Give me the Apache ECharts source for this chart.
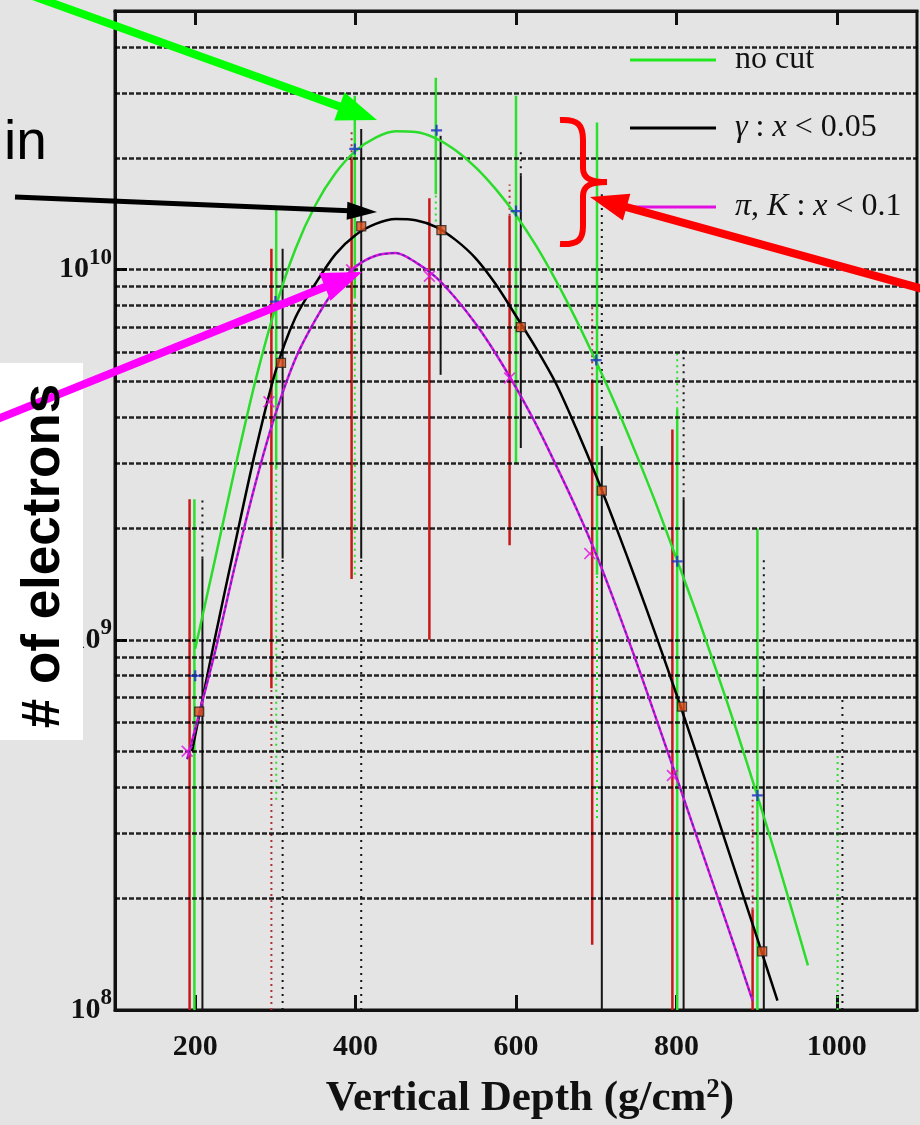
<!DOCTYPE html>
<html><head><meta charset="utf-8">
<script src="https://cdn.jsdelivr.net/npm/echarts@6/dist/echarts.min.js"></script>
<style>html,body{margin:0;padding:0;background:#e4e4e4;} #c{width:920px;height:1125px;}</style>
</head><body><div id="c"></div>
<script>
// ---------- data ----------
const xTickValues = [200, 400, 600, 800, 1000];
const gridValues = [2e8,3e8,4e8,5e8,6e8,7e8,8e8,9e8,1e9,2e9,3e9,4e9,5e9,6e9,7e9,8e9,9e9,1e10,2e10,3e10,4e10];
const seriesNames = ['no cut', 'γ : x < 0.05', 'π, K : x < 0.1'];

const noCutCurve = [[200,9.46e8],[225,1.66e9],[250,2.93e9],[275,5.0e9],[300,7.89e9],[325,1.138e10],[350,1.496e10],[375,1.824e10],[400,2.094e10],[425,2.275e10],[450,2.366e10],[475,2.355e10],[500,2.265e10],[525,2.099e10],[550,1.888e10],[575,1.648e10],[600,1.403e10],[625,1.161e10],[650,9.33e9],[675,7.33e9],[700,5.64e9],[725,4.27e9],[750,3.17e9],[775,2.32e9],[800,1.66e9],[825,1.18e9],[850,8.24e8],[875,5.69e8],[900,3.85e8],[925,2.57e8],[950,1.68e8],[964,1.32e8]];
const gammaCurve = [[196,5.0e8],[225,1.02e9],[250,1.83e9],[275,3.23e9],[300,5.3e9],[325,7.43e9],[350,9.18e9],[375,1.102e10],[400,1.242e10],[425,1.33e10],[450,1.371e10],[475,1.361e10],[500,1.306e10],[525,1.202e10],[550,1.072e10],[575,9.12e9],[600,7.5e9],[625,6.14e9],[650,4.92e9],[675,3.73e9],[700,2.77e9],[725,2.01e9],[750,1.44e9],[775,1.02e9],[800,7.13e8],[825,4.93e8],[850,3.38e8],[875,2.31e8],[900,1.58e8],[926,1.06e8]];
const piKCurve = [[190,4.76e8],[200,5.75e8],[225,9.33e8],[250,1.6e9],[275,2.64e9],[300,4.07e9],[325,5.75e9],[350,7.33e9],[375,8.91e9],[400,1.019e10],[425,1.091e10],[450,1.109e10],[475,1.047e10],[500,9.55e9],[525,8.36e9],[550,7.13e9],[575,5.92e9],[600,4.8e9],[625,3.82e9],[650,2.96e9],[675,2.27e9],[700,1.7e9],[725,1.23e9],[750,8.73e8],[775,6.11e8],[800,4.26e8],[825,2.96e8],[850,2.06e8],[875,1.43e8],[895,1.06e8]];

const noCutPoints = [[200,8.0e8],[300,8.2e9],[399,2.12e10],[501,2.38e10],[600,1.44e10],[700,5.7e9],[801,1.63e9],[901,3.8e8]];
const gammaPoints = [[205,6.4e8],[307,5.6e9],[407,1.31e10],[507,1.28e10],[606,7.0e9],[707,2.53e9],[807,6.6e8],[907,1.44e8]];
const piKPoints = [[190,5.0e8],[292,4.4e9],[395,1.0e10],[492,9.6e9],[592,5.1e9],[692,1.71e9],[795,4.3e8]];

// error bars: [depth, low, high]
const redSolid = [[193,1e8,2.4e9],[295,7.4e8,1.14e10],[395,1.46e9,2.0e10],[492,1.0e9,1.56e10],[592,1.8e9,1.4e10],[695,1.5e8,5.0e9],[795,1e8,3.7e9],[895,1e8,1.87e8]];
const redDotted = [[295,1e8,7.4e8],[395,2.0e10,2.4e10],[592,1.4e10,1.7e10],[695,5.0e9,8e9],[895,1.87e8,3.7e8]];
const greenSolid = [[199,1e8,2.4e9],[301,2.9e9,1.46e10],[399,8.4e9,2.95e10],[500,1.6e10,3.3e10],[600,3.0e9,2.95e10],[701,1.5e9,2.5e10],[801,1e8,4.2e9],[901,1e8,2.0e9]];
const greenDotted = [[301,3.7e8,2.9e9],[399,1.5e9,8.4e9],[500,1.3e10,1.6e10],[701,3.3e8,1.5e9],[801,4.2e9,6.1e9],[1001,1e8,5e8]];
const blackSolid = [[209,1e8,1.66e9],[309,1.66e9,1.14e10],[407,1.66e9,2.4e10],[506,5.2e9,2.3e10],[606,3.3e9,1.8e10],[707,1e8,3.3e9],[809,1e8,2.4e9],[909,1e8,7.4e8]];
const blackDotted = [[209,1.66e9,2.4e9],[309,1e8,1.66e9],[407,1e8,1.66e9],[606,1.8e10,2.1e10],[707,3.3e9,1.6e10],[809,2.4e9,6.1e9],[909,7.4e8,1.66e9],[1007,1e8,7e8]];

// ---------- styles ----------
const SERIF = "'Liberation Serif','Times New Roman',serif";
const SANS = "'Liberation Sans',Arial,sans-serif";
const crossPath = 'path://M4,0 L6,0 L6,4 L10,4 L10,6 L6,6 L6,10 L4,10 L4,6 L0,6 L0,4 L4,4 Z';
const xPath = 'path://M1,0 L5,4 L9,0 L10,1 L6,5 L10,9 L9,10 L5,6 L1,10 L0,9 L4,5 L0,1 Z';

function barSeries(data, color, width, dash) {
  return {
    type: 'custom', data: data, silent: true, z: 3,
    encode: {x: 0, y: [1, 2]},
    renderItem: function (params, api) {
      const a = api.coord([api.value(0), api.value(1)]);
      const b = api.coord([api.value(0), api.value(2)]);
      return {type: 'line', shape: {x1: a[0], y1: a[1], x2: b[0], y2: b[1]},
        style: {stroke: color, lineWidth: width, lineDash: dash || null}};
    }
  };
}

function arrow(x1, y1, x2, y2, color, w, hl, hw) {
  const dx = x2 - x1, dy = y2 - y1, L = Math.hypot(dx, dy);
  const ux = dx / L, uy = dy / L, px = -uy, py = ux;
  const bx = x2 - ux * hl, by = y2 - uy * hl;
  return [
    {type: 'line', z: 100, shape: {x1: x1, y1: y1, x2: bx + ux * 2, y2: by + uy * 2}, style: {stroke: color, lineWidth: w}},
    {type: 'polygon', z: 100, shape: {points: [[x2, y2], [bx + px * hw, by + py * hw], [bx - px * hw, by - py * hw]]}, style: {fill: color}}
  ];
}

function braceParts(color, w) {
  const st = {stroke: color, lineWidth: w, fill: null};
  const bz = function (x1, y1, c1x, c1y, c2x, c2y, x2, y2) {
    return {type: 'bezierCurve', z: 100, shape: {x1: x1, y1: y1, cpx1: c1x, cpy1: c1y, cpx2: c2x, cpy2: c2y, x2: x2, y2: y2}, style: st};
  };
  const ln = function (x1, y1, x2, y2) {
    return {type: 'line', z: 100, shape: {x1: x1, y1: y1, x2: x2, y2: y2}, style: st};
  };
  return [
    bz(560, 120, 578, 119, 583, 125, 583, 140), ln(583, 139, 583, 169),
    bz(583, 168, 583, 178, 590, 182, 607, 182), bz(607, 182, 590, 182, 583, 186, 583, 196),
    ln(583, 195, 583, 227), bz(583, 226, 583, 240, 578, 245, 560, 244)
  ];
}

function legendFor(name, top, fmt) {
  return {
    data: [name], left: 630, top: top, padding: 0, orient: 'horizontal',
    icon: 'rect', itemWidth: 86, itemHeight: 3, selectedMode: false,
    formatter: fmt,
    textStyle: {fontFamily: SERIF, fontSize: 32, color: '#111', padding: [0, 0, 0, 14],
      rich: {i: {fontFamily: SERIF, fontStyle: 'italic', fontSize: 32, color: '#111'},
             n: {fontFamily: SERIF, fontSize: 32, color: '#111'}}}
  };
}

const chart = echarts.init(document.getElementById('c'));
const option = {
  animation: false,
  backgroundColor: '#e4e4e4',
  grid: {left: 115, right: 3, top: 11, bottom: 114, show: true, borderColor: '#111', borderWidth: 3, backgroundColor: 'transparent'},
  legend: [
    legendFor(seriesNames[0], 44, function () { return '{n|no cut}'; }),
    legendFor(seriesNames[1], 112, function () { return '{i|γ} {n|:} {i|x} {n|< 0.05}'; }),
    legendFor(seriesNames[2], 191, function () { return '{i|π}{n|,} {i|K} {n|:} {i|x} {n|< 0.1}'; })
  ],
  xAxis: [{
    type: 'value', min: 100, max: 1100, position: 'bottom',
    axisLine: {show: true, lineStyle: {color: '#111', width: 3}},
    axisTick: {show: true, inside: true, length: 15, customValues: xTickValues, lineStyle: {color: '#111', width: 3}},
    axisLabel: {customValues: xTickValues, fontFamily: SERIF, fontWeight: 'bold', fontSize: 30, color: '#111', margin: 22,
      formatter: function (v) { return String(v); }},
    splitLine: {show: false},
    name: 'Vertical Depth (g/cm{s|2})', nameLocation: 'middle', nameGap: 67,
    nameTextStyle: {fontFamily: SERIF, fontWeight: 'bold', fontSize: 43, color: '#111', padding: [0, 0, 0, 28],
      rich: {s: {fontFamily: SERIF, fontWeight: 'bold', fontSize: 27, color: '#111', verticalAlign: 'top', lineHeight: 22}}}
  }, {
    type: 'value', min: 100, max: 1100, position: 'top',
    axisLine: {show: true, lineStyle: {color: '#111', width: 3}},
    axisTick: {show: true, inside: true, length: 14, customValues: xTickValues, lineStyle: {color: '#111', width: 3}},
    axisLabel: {show: false}, splitLine: {show: false}
  }],
  yAxis: {
    type: 'log', logBase: 10, min: 1e8, max: 5e10,
    axisLine: {show: true, lineStyle: {color: '#111', width: 3}},
    axisTick: {show: true, inside: true, length: 12, lineStyle: {color: '#111', width: 3}},
    splitLine: {show: false},
    axisLabel: {
      margin: 3,
      formatter: function (v) {
        const l = Math.log10(v), e = Math.round(l);
        if (Math.abs(l - e) > 1e-6) return '';
        return '{b|10}{s|' + e + '}';
      },
      rich: {
        b: {fontFamily: SERIF, fontWeight: 'bold', fontSize: 30, color: '#111', lineHeight: 46},
        s: {fontFamily: SERIF, fontWeight: 'bold', fontSize: 23, color: '#111', lineHeight: 22, verticalAlign: 'top'}
      }
    }
  },
  series: [
    {type: 'line', data: [], silent: true, z: 1, symbol: 'none',
      markLine: {silent: true, symbol: ['none', 'none'], label: {show: false},
        lineStyle: {color: '#000', width: 2.6, type: [5, 2], opacity: 0.85},
        data: gridValues.map(function (v) { return {yAxis: v}; })}},
    barSeries(redSolid, '#c81818', 2.5),
    barSeries(redDotted, '#b03030', 2, [2, 4]),
    barSeries(greenSolid, '#2ee02e', 2.5),
    barSeries(greenDotted, '#2ee02e', 2, [2, 4]),
    barSeries(blackSolid, '#151515', 2),
    barSeries(blackDotted, '#151515', 2, [2, 5]),
    {name: seriesNames[0], type: 'line', data: noCutCurve, smooth: 0.3, symbol: 'none', z: 5,
      lineStyle: {color: '#2bdc2b', width: 2.5}, itemStyle: {color: '#22e822'}},
    {name: seriesNames[1], type: 'line', data: gammaCurve, smooth: 0.3, symbol: 'none', z: 5,
      lineStyle: {color: '#000', width: 2.5}, itemStyle: {color: '#000'}},
    {name: seriesNames[2], type: 'line', data: piKCurve, smooth: 0.3, symbol: 'none', z: 5,
      lineStyle: {color: '#e010e0', width: 2.5}, itemStyle: {color: '#e010e0'}},
    {name: 'piK-overlay', type: 'line', data: piKCurve, smooth: 0.3, symbol: 'none', z: 6, silent: true,
      lineStyle: {color: '#4a2aa8', width: 1.5, type: [3, 3]}},
    {type: 'scatter', data: noCutPoints, symbol: crossPath, symbolSize: 11, z: 8, itemStyle: {color: '#1b2cc8'}},
    {type: 'scatter', data: gammaPoints, symbol: 'rect', symbolSize: 9, z: 8, itemStyle: {color: '#e0501a', borderColor: '#222', borderWidth: 1.2}},
    {type: 'scatter', data: piKPoints, symbol: xPath, symbolSize: 12, z: 8, itemStyle: {color: '#e010e0'}}
  ],
  graphic: {elements: [].concat(
    [{type: 'rect', z: 100, shape: {x: 0, y: 363, width: 83, height: 377}, style: {fill: '#ffffff'}},
     {type: 'text', z: 101, x: 44, y: 556, rotation: Math.PI / 2,
       style: {text: '# of electrons', x: 0, y: 0, fill: '#000', font: 'bold 53px ' + SANS,
         align: 'center', verticalAlign: 'middle', textAlign: 'center', textVerticalAlign: 'middle'}},
     {type: 'text', z: 101, x: 4, y: 144,
       style: {text: 'in', x: 0, y: 0, fill: '#000', font: '55px ' + SANS,
         align: 'left', verticalAlign: 'middle', textAlign: 'left', textVerticalAlign: 'middle'}}],
    braceParts('#ff0000', 6),
    arrow(30, -5, 377, 120, '#00ff00', 8, 40, 15),
    arrow(15, 197, 377, 212, '#000000', 5, 30, 9),
    arrow(-5, 420, 362, 272, '#ff00ff', 8, 40, 15),
    arrow(930, 291, 590, 197, '#ff0000', 8, 38, 14)
  )}
};
chart.setOption(option);
</script>
</body></html>
